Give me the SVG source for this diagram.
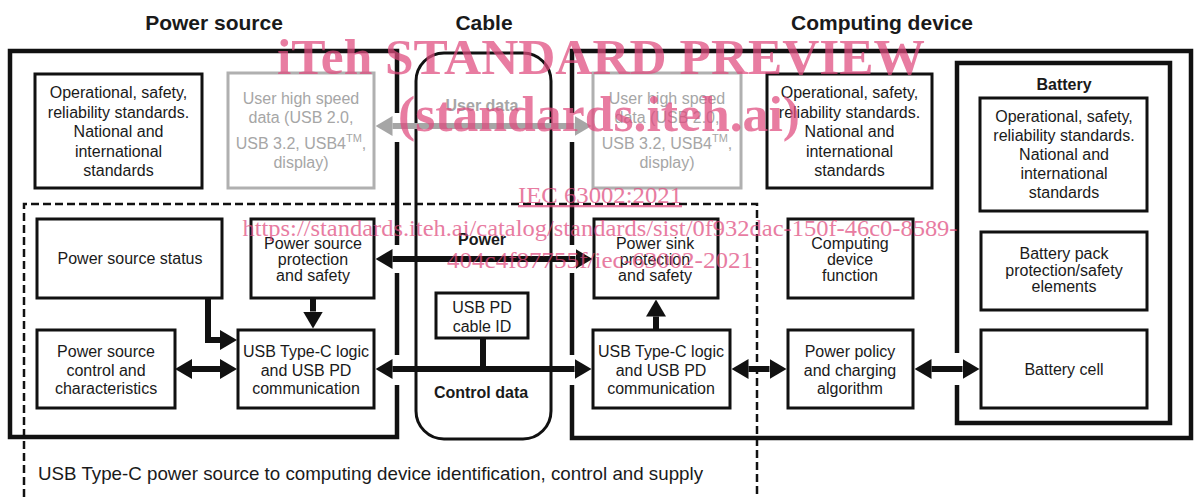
<svg xmlns="http://www.w3.org/2000/svg" width="1196" height="497" viewBox="0 0 1196 497">
<style>
text{font-family:"Liberation Sans",Arial,sans-serif;fill:#1a1a1a}
.t{font-size:16px;text-anchor:middle}
.g{fill:#a6a6a6}
.b{font-weight:bold}
.h{font-size:21px;font-weight:bold;text-anchor:middle}
.box{fill:#fff;stroke:#111;stroke-width:3}
.gbox{fill:#fff;stroke:#b0b0b0;stroke-width:3}
.outer{fill:none;stroke:#111;stroke-width:4.5}
.dash{fill:none;stroke:#111;stroke-width:2.5;stroke-dasharray:8 4}
.con{fill:none;stroke:#111;stroke-width:6}
.gcon{fill:none;stroke:#a6a6a6;stroke-width:6}
.wm{font-family:"Liberation Serif","Times New Roman",serif;fill:#e04a7e;opacity:0.72;text-anchor:middle}
</style>
<defs>
<marker id="ah" viewBox="0 0 17 20" refX="0" refY="10" markerWidth="17" markerHeight="20" markerUnits="userSpaceOnUse" orient="auto-start-reverse"><path d="M0,0 L17,10 L0,20 Z" fill="#111"/></marker>
<marker id="gah" viewBox="0 0 17 20" refX="0" refY="10" markerWidth="17" markerHeight="20" markerUnits="userSpaceOnUse" orient="auto-start-reverse"><path d="M0,0 L17,10 L0,20 Z" fill="#a6a6a6"/></marker>
</defs>
<rect width="1196" height="497" fill="#fff"/>

<!-- titles -->
<text class="h" x="214" y="30">Power source</text>
<text class="h" x="484" y="30">Cable</text>
<text class="h" x="882" y="30">Computing device</text>

<!-- containers -->
<g id="power-source">
<path class="outer" d="M397,113 V51 H10 V437 H397 V385 M397,355 V273 M397,245 V142"/>
</g>
<g id="cable">
<rect x="416" y="53" width="135" height="386" rx="28" fill="none" stroke="#111" stroke-width="3"/>
<text class="t b g" x="482" y="111">User data</text>
<text class="t b" x="482" y="245">Power</text>
<text class="t b" x="481" y="398">Control data</text>
</g>
<g id="computing-device">
<path class="outer" d="M572,142 V245 M572,273 V355 M572,385 V438 H1191 V51 H572 V113"/>
</g>
<g id="battery">
<path class="outer" d="M957,385 V423 H1170 V63 H957 V353"/>
<text class="t b" x="1064" y="90">Battery</text>
</g>
<g id="identification-area">
<path class="dash" d="M24,497 V204 H757 V497"/>
<text x="38" y="480" style="font-size:18.5px" textLength="665" lengthAdjust="spacingAndGlyphs">USB Type-C power source to computing device identification, control and supply</text>
</g>

<!-- nodes -->
<g id="src-standards">
<rect class="box" x="35" y="74" width="167" height="114"/>
<text class="t" x="118.5" y="98">Operational, safety,</text>
<text class="t" x="118.5" y="117.5">reliability standards.</text>
<text class="t" x="118.5" y="137">National and</text>
<text class="t" x="118.5" y="156.5">international</text>
<text class="t" x="118.5" y="176">standards</text>
</g>
<g id="src-userdata">
<rect class="gbox" x="228" y="73" width="146" height="115"/>
<text class="t g" x="301" y="104">User high speed</text>
<text class="t g" x="301" y="123">data (USB 2.0,</text>
<text class="t g" x="301" y="149">USB 3.2, USB4<tspan dy="-7" style="font-size:11px">TM</tspan><tspan dy="7">,</tspan></text>
<text class="t g" x="301" y="168">display)</text>
</g>
<g id="src-status">
<rect class="box" x="37" y="219" width="185" height="79"/>
<text class="t" x="130" y="264">Power source status</text>
</g>
<g id="src-protection">
<rect class="box" x="251" y="219" width="123" height="79"/>
<text class="t" x="313" y="249">Power source</text>
<text class="t" x="313" y="265">protection</text>
<text class="t" x="313" y="281">and safety</text>
</g>
<g id="src-control">
<rect class="box" x="37" y="330" width="138" height="78"/>
<text class="t" x="106" y="357">Power source</text>
<text class="t" x="106" y="376">control and</text>
<text class="t" x="106" y="394">characteristics</text>
</g>
<g id="src-logic">
<rect class="box" x="238" y="330" width="136" height="78"/>
<text class="t" x="306" y="357">USB Type-C logic</text>
<text class="t" x="306" y="376">and USB PD</text>
<text class="t" x="306" y="394">communication</text>
</g>
<g id="cable-id">
<rect class="box" x="436" y="293" width="92" height="45"/>
<text class="t" x="482" y="313">USB PD</text>
<text class="t" x="482" y="332">cable ID</text>
</g>
<g id="snk-userdata">
<rect class="gbox" x="593" y="73" width="148" height="115"/>
<text class="t g" x="667" y="104">User high speed</text>
<text class="t g" x="667" y="123">data (USB 2.0,</text>
<text class="t g" x="667" y="149">USB 3.2, USB4<tspan dy="-7" style="font-size:11px">TM</tspan><tspan dy="7">,</tspan></text>
<text class="t g" x="667" y="168">display)</text>
</g>
<g id="dev-standards">
<rect class="box" x="767" y="74" width="165" height="114"/>
<text class="t" x="849.5" y="98">Operational, safety,</text>
<text class="t" x="849.5" y="117.5">reliability standards.</text>
<text class="t" x="849.5" y="137">National and</text>
<text class="t" x="849.5" y="156.5">international</text>
<text class="t" x="849.5" y="176">standards</text>
</g>
<g id="bat-standards">
<rect class="box" x="980" y="98" width="167" height="113"/>
<text class="t" x="1064" y="122">Operational, safety,</text>
<text class="t" x="1064" y="141">reliability standards.</text>
<text class="t" x="1064" y="160">National and</text>
<text class="t" x="1064" y="179">international</text>
<text class="t" x="1064" y="198">standards</text>
</g>
<g id="snk-protection">
<rect class="box" x="594" y="219" width="124" height="79"/>
<text class="t" x="655" y="249">Power sink</text>
<text class="t" x="655" y="265">protection</text>
<text class="t" x="655" y="281">and safety</text>
</g>
<g id="dev-function">
<rect class="box" x="788" y="219" width="125" height="79"/>
<text class="t" x="850" y="249">Computing</text>
<text class="t" x="850" y="265">device</text>
<text class="t" x="850" y="281">function</text>
</g>
<g id="bat-pack">
<rect class="box" x="981" y="232" width="166" height="78"/>
<text class="t" x="1064" y="259">Battery pack</text>
<text class="t" x="1064" y="276">protection/safety</text>
<text class="t" x="1064" y="292">elements</text>
</g>
<g id="snk-logic">
<rect class="box" x="593" y="330" width="137" height="78"/>
<text class="t" x="661" y="357">USB Type-C logic</text>
<text class="t" x="661" y="376">and USB PD</text>
<text class="t" x="661" y="394">communication</text>
</g>
<g id="power-policy">
<rect class="box" x="788" y="330" width="125" height="78"/>
<text class="t" x="850" y="357">Power policy</text>
<text class="t" x="850" y="376">and charging</text>
<text class="t" x="850" y="394">algorithm</text>
</g>
<g id="bat-cell">
<rect class="box" x="981" y="330" width="166" height="78"/>
<text class="t" x="1064" y="375">Battery cell</text>
</g>

<!-- connectors -->
<g id="connectors">
<line class="gcon" x1="392.5" y1="126" x2="574.5" y2="126" marker-start="url(#gah)" marker-end="url(#gah)"/>
<line class="con" x1="392.5" y1="259" x2="575.5" y2="259" marker-start="url(#ah)" marker-end="url(#ah)"/>
<line class="con" x1="392.5" y1="369" x2="574.5" y2="369" marker-start="url(#ah)" marker-end="url(#ah)"/>
<path class="con" d="M483,338 V369"/>
<line class="con" x1="192" y1="369" x2="220" y2="369" marker-start="url(#ah)" marker-end="url(#ah)"/>
<path class="con" d="M208,298 V340 H220" marker-end="url(#ah)"/>
<path class="con" d="M313,298 V311.5" marker-end="url(#ah)"/>
<path class="con" d="M656,330 V316.5" marker-end="url(#ah)"/>
<line class="con" x1="748.5" y1="369" x2="769.5" y2="369" marker-start="url(#ah)" marker-end="url(#ah)"/>
<line class="con" x1="931.5" y1="369" x2="962.5" y2="369" marker-start="url(#ah)" marker-end="url(#ah)"/>
</g>

<!-- watermark -->
<g id="watermark">
<text class="wm" x="601" y="74" style="font-size:50px;font-weight:bold" textLength="648" lengthAdjust="spacingAndGlyphs">iTeh STANDARD PREVIEW</text>
<text class="wm" x="599" y="131" style="font-size:50px;font-weight:bold" textLength="402" lengthAdjust="spacingAndGlyphs">(standards.iteh.ai)</text>
<text class="wm" x="600" y="203" style="font-size:23px;text-decoration:underline" textLength="164" lengthAdjust="spacingAndGlyphs">IEC 63002:2021</text>
<text class="wm" x="600" y="236" style="font-size:23px" textLength="715" lengthAdjust="spacingAndGlyphs">https://standards.iteh.ai/catalog/standards/sist/0f932dac-150f-46c0-8589-</text>
<text class="wm" x="600" y="268" style="font-size:23px" textLength="306" lengthAdjust="spacingAndGlyphs">404c4f87755f/iec-63002-2021</text>
</g>
</svg>
